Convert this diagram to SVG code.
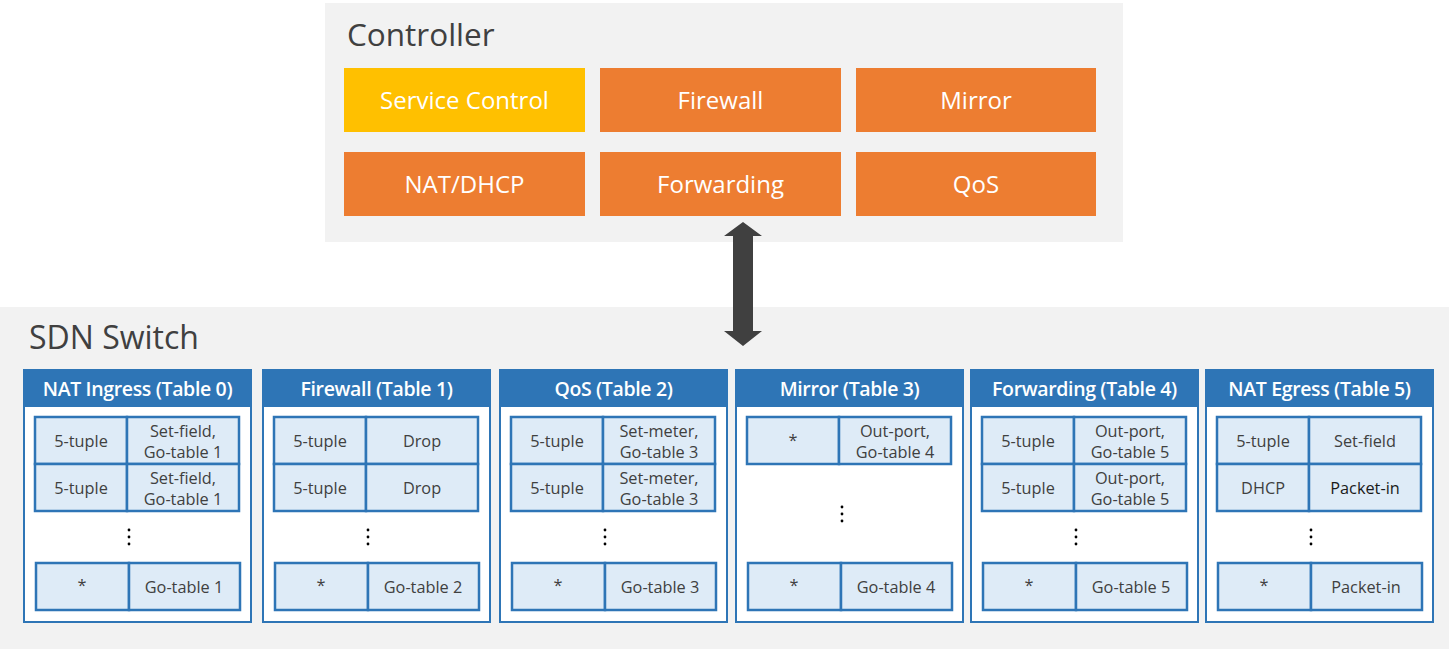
<svg xmlns="http://www.w3.org/2000/svg" width="1449" height="649" viewBox="0 0 1449 649">
<style>
.panel{fill:#f2f2f2}
.title{font-family:"Open Sans","Noto Sans",sans-serif;font-size:31.5px;fill:#404040}
.title2{font-size:32px}
.box{stroke:none}
.orange{fill:#ed7d31}
.yellow{fill:#ffc000}
.btxt{font-family:"Open Sans","Noto Sans",sans-serif;font-size:24px;fill:#ffffff;text-anchor:middle}
.tbl{fill:#ffffff;stroke:#2e75b6;stroke-width:2}
.hdr{fill:#2e75b6}
.htxt{font-family:"Open Sans","Noto Sans",sans-serif;font-size:19.5px;font-weight:600;fill:#ffffff;text-anchor:middle;letter-spacing:-0.35px}
.cell{fill:#deebf7;stroke:#2e75b6;stroke-width:2.5}
.ctxt{font-family:"Open Sans","Noto Sans",sans-serif;font-size:16.3px;fill:#404040;text-anchor:middle}
.dark{fill:#1a1a1a}
.dot{fill:#000000}
</style>
<defs>
<g id="dots"><circle cx="0" cy="-7" r="1.4" class="dot"/><circle cx="0" cy="0" r="1.4" class="dot"/><circle cx="0" cy="7" r="1.4" class="dot"/></g>
</defs>

<g id="controller">
<rect class="panel" x="325" y="3" width="798" height="239"/>
<text class="title" x="347" y="46">Controller</text>
</g>
<g id="svc-service-control"><rect class="box yellow" x="344" y="68" width="241" height="64"/><text class="btxt" x="464.5" y="108.5">Service Control</text></g>
<g id="svc-firewall"><rect class="box orange" x="600" y="68" width="241" height="64"/><text class="btxt" x="720.5" y="108.5">Firewall</text></g>
<g id="svc-mirror"><rect class="box orange" x="856" y="68" width="240" height="64"/><text class="btxt" x="976" y="108.5">Mirror</text></g>
<g id="svc-natdhcp"><rect class="box orange" x="344" y="152" width="241" height="64"/><text class="btxt" x="464.5" y="192.5">NAT/DHCP</text></g>
<g id="svc-forwarding"><rect class="box orange" x="600" y="152" width="241" height="64"/><text class="btxt" x="720.5" y="192.5">Forwarding</text></g>
<g id="svc-qos"><rect class="box orange" x="856" y="152" width="240" height="64"/><text class="btxt" x="976" y="192.5">QoS</text></g>

<g id="switch">
<rect class="panel" x="0" y="307" width="1449" height="342"/>
<text class="title title2" x="29" y="349">SDN Switch</text>
</g>

<g id="connectors">
<polygon fill="#404040" points="743,222 762,236 753,236 753,331 762,331 743,346 724,331 733,331 733,236 724,236"/>
</g>

<g id="table0" transform="translate(24,0)">
<rect class="tbl" x="0" y="370" width="227" height="252"/>
<rect class="hdr" x="0" y="370" width="227" height="37"/>
<text class="htxt" x="113.5" y="396">NAT Ingress (Table 0)</text>
<rect class="cell" x="11" y="417" width="92" height="47"/><rect class="cell" x="103" y="417" width="112" height="47"/>
<rect class="cell" x="11" y="464" width="92" height="47"/><rect class="cell" x="103" y="464" width="112" height="47"/>
<text class="ctxt" x="57" y="446.5">5-tuple</text>
<text class="ctxt" x="159" y="437">Set-field,</text><text class="ctxt" x="159" y="458">Go-table 1</text>
<text class="ctxt" x="57" y="493.5">5-tuple</text>
<text class="ctxt" x="159" y="484">Set-field,</text><text class="ctxt" x="159" y="505">Go-table 1</text>
<use href="#dots" x="105" y="537"/>
<rect class="cell" x="12" y="563" width="93" height="47"/><rect class="cell" x="105" y="563" width="111" height="47"/>
<text class="ctxt" x="58" y="591">*</text><text class="ctxt" x="160" y="592.5">Go-table 1</text>
</g>

<g id="table1" transform="translate(263,0)">
<rect class="tbl" x="0" y="370" width="227" height="252"/>
<rect class="hdr" x="0" y="370" width="227" height="37"/>
<text class="htxt" x="113.5" y="396">Firewall (Table 1)</text>
<rect class="cell" x="11" y="417" width="92" height="47"/><rect class="cell" x="103" y="417" width="112" height="47"/>
<rect class="cell" x="11" y="464" width="92" height="47"/><rect class="cell" x="103" y="464" width="112" height="47"/>
<text class="ctxt" x="57" y="446.5">5-tuple</text><text class="ctxt" x="159" y="446.5">Drop</text>
<text class="ctxt" x="57" y="493.5">5-tuple</text><text class="ctxt" x="159" y="493.5">Drop</text>
<use href="#dots" x="105" y="537"/>
<rect class="cell" x="12" y="563" width="93" height="47"/><rect class="cell" x="105" y="563" width="111" height="47"/>
<text class="ctxt" x="58" y="591">*</text><text class="ctxt" x="160" y="592.5">Go-table 2</text>
</g>

<g id="table2" transform="translate(500,0)">
<rect class="tbl" x="0" y="370" width="227" height="252"/>
<rect class="hdr" x="0" y="370" width="227" height="37"/>
<text class="htxt" x="113.5" y="396">QoS (Table 2)</text>
<rect class="cell" x="11" y="417" width="92" height="47"/><rect class="cell" x="103" y="417" width="112" height="47"/>
<rect class="cell" x="11" y="464" width="92" height="47"/><rect class="cell" x="103" y="464" width="112" height="47"/>
<text class="ctxt" x="57" y="446.5">5-tuple</text>
<text class="ctxt" x="159" y="437">Set-meter,</text><text class="ctxt" x="159" y="458">Go-table 3</text>
<text class="ctxt" x="57" y="493.5">5-tuple</text>
<text class="ctxt" x="159" y="484">Set-meter,</text><text class="ctxt" x="159" y="505">Go-table 3</text>
<use href="#dots" x="105" y="537"/>
<rect class="cell" x="12" y="563" width="93" height="47"/><rect class="cell" x="105" y="563" width="111" height="47"/>
<text class="ctxt" x="58" y="591">*</text><text class="ctxt" x="160" y="592.5">Go-table 3</text>
</g>

<g id="table3" transform="translate(736,0)">
<rect class="tbl" x="0" y="370" width="227" height="252"/>
<rect class="hdr" x="0" y="370" width="227" height="37"/>
<text class="htxt" x="113.5" y="396">Mirror (Table 3)</text>
<rect class="cell" x="11" y="417" width="92" height="47"/><rect class="cell" x="103" y="417" width="112" height="47"/>
<text class="ctxt" x="57" y="446">*</text>
<text class="ctxt" x="159" y="437">Out-port,</text><text class="ctxt" x="159" y="458">Go-table 4</text>
<use href="#dots" x="106" y="514"/>
<rect class="cell" x="12" y="563" width="93" height="47"/><rect class="cell" x="105" y="563" width="111" height="47"/>
<text class="ctxt" x="58" y="591">*</text><text class="ctxt" x="160" y="592.5">Go-table 4</text>
</g>

<g id="table4" transform="translate(971,0)">
<rect class="tbl" x="0" y="370" width="227" height="252"/>
<rect class="hdr" x="0" y="370" width="227" height="37"/>
<text class="htxt" x="113.5" y="396">Forwarding (Table 4)</text>
<rect class="cell" x="11" y="417" width="92" height="47"/><rect class="cell" x="103" y="417" width="112" height="47"/>
<rect class="cell" x="11" y="464" width="92" height="47"/><rect class="cell" x="103" y="464" width="112" height="47"/>
<text class="ctxt" x="57" y="446.5">5-tuple</text>
<text class="ctxt" x="159" y="437">Out-port,</text><text class="ctxt" x="159" y="458">Go-table 5</text>
<text class="ctxt" x="57" y="493.5">5-tuple</text>
<text class="ctxt" x="159" y="484">Out-port,</text><text class="ctxt" x="159" y="505">Go-table 5</text>
<use href="#dots" x="105" y="537"/>
<rect class="cell" x="12" y="563" width="93" height="47"/><rect class="cell" x="105" y="563" width="111" height="47"/>
<text class="ctxt" x="58" y="591">*</text><text class="ctxt" x="160" y="592.5">Go-table 5</text>
</g>

<g id="table5" transform="translate(1206,0)">
<rect class="tbl" x="0" y="370" width="227" height="252"/>
<rect class="hdr" x="0" y="370" width="227" height="37"/>
<text class="htxt" x="113.5" y="396">NAT Egress (Table 5)</text>
<rect class="cell" x="11" y="417" width="92" height="47"/><rect class="cell" x="103" y="417" width="112" height="47"/>
<rect class="cell" x="11" y="464" width="92" height="47"/><rect class="cell" x="103" y="464" width="112" height="47"/>
<text class="ctxt" x="57" y="446.5">5-tuple</text><text class="ctxt" x="159" y="446.5">Set-field</text>
<text class="ctxt" x="57" y="493.5">DHCP</text><text class="ctxt dark" x="159" y="493.5">Packet-in</text>
<use href="#dots" x="105" y="537"/>
<rect class="cell" x="12" y="563" width="93" height="47"/><rect class="cell" x="105" y="563" width="111" height="47"/>
<text class="ctxt" x="58" y="591">*</text><text class="ctxt" x="160" y="592.5">Packet-in</text>
</g>
</svg>
